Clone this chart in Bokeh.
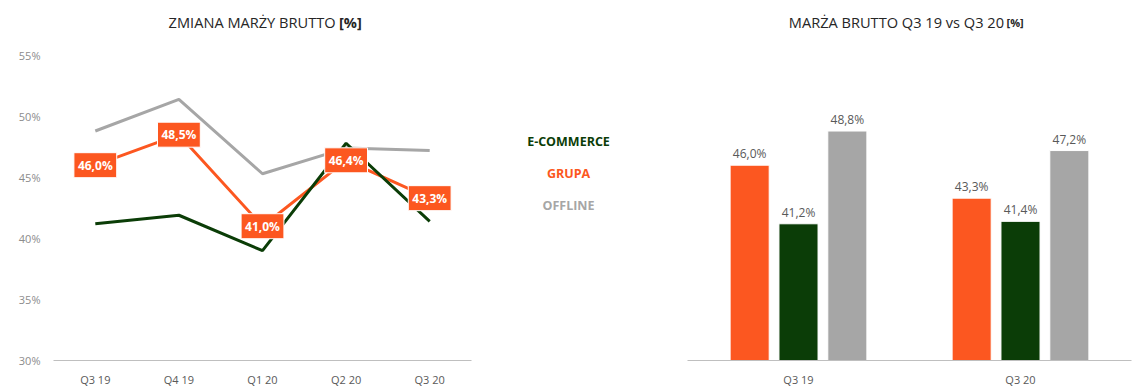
from bokeh.plotting import figure
from bokeh.layouts import row
from bokeh.models import ColumnDataSource, FactorRange, Range1d, FixedTicker, PrintfTickFormatter
from bokeh.transform import dodge
from bokeh.core.properties import value
from bokeh.embed import file_html
from bokeh.resources import INLINE

# ---------------- data ----------------
quarters = ["Q3 19", "Q4 19", "Q1 20", "Q2 20", "Q3 20"]
grupa = [46.0, 48.5, 41.0, 46.4, 43.3]
ecommerce = [41.2, 41.9, 39.0, 47.8, 41.4]
offline = [48.8, 51.4, 45.3, 47.4, 47.2]

series_names = ["E-COMMERCE", "GRUPA", "OFFLINE"]

bar_quarters = ["Q3 19", "Q3 20"]
bar_grupa = [46.0, 43.3]
bar_ecommerce = [41.2, 41.4]
bar_offline = [48.8, 47.2]

y_ticks = [30, 35, 40, 45, 50, 55]

# ---------------- style ----------------
FONT = "Open Sans"
ORANGE = "#FC5720"
GREEN = "#0B3D07"
GREY = "#A6A6A6"
TITLE_C = "#262626"
series_colors = [GREEN, ORANGE, GREY]
H = 389
BOTTOM = 28
FRAME_H = H - BOTTOM
PX_PER = 12.24
Y0 = 30
Y_TOP = Y0 + FRAME_H / PX_PER          # frame extends to top of page (room for titles)
TITLE_Y = Y0 + (FRAME_H - 22) / PX_PER


def fmt(v):
    return f"{v:.1f}%".replace(".", ",")


def base_style(p):
    p.outline_line_color = None
    p.xgrid.visible = False
    p.ygrid.visible = False
    p.background_fill_color = "white"
    p.border_fill_color = "white"


def style_xaxis(p):
    p.xaxis.axis_line_color = "#BFBFBF"
    p.xaxis.major_tick_line_color = None
    p.xaxis.minor_tick_line_color = None
    p.xaxis.major_label_standoff = 5
    p.xaxis.major_label_text_font = FONT
    p.xaxis.major_label_text_font_size = "11px"
    p.xaxis.major_label_text_color = "#595959"


# ---------------- left: line chart ----------------
p1 = figure(width=488, height=H, x_range=FactorRange(*quarters), y_range=Range1d(Y0, Y_TOP),
            output_backend="svg", toolbar_location=None,
            min_border_left=53, min_border_right=17, min_border_top=0, min_border_bottom=BOTTOM)
base_style(p1)

src = ColumnDataSource(dict(q=quarters, grupa=grupa, ecommerce=ecommerce, offline=offline,
                            lbl=[fmt(v) for v in grupa]))
p1.line("q", "offline", source=src, color=GREY, line_width=3)
p1.line("q", "grupa", source=src, color=ORANGE, line_width=3)
p1.line("q", "ecommerce", source=src, color=GREEN, line_width=3)
p1.text("q", "grupa", text="lbl", source=src, text_color="white",
        text_font=value(FONT), text_font_style="bold", text_font_size="12px",
        text_align="center", text_baseline="middle",
        background_fill_color=ORANGE, border_line_color="white", border_line_width=1,
        padding=4)

p1.yaxis.ticker = FixedTicker(ticks=y_ticks)
p1.yaxis.formatter = PrintfTickFormatter(format="%d%%")
p1.yaxis.axis_line_color = None
p1.yaxis.major_tick_line_color = None
p1.yaxis.minor_tick_line_color = None
p1.yaxis.major_label_standoff = 7
p1.yaxis.major_label_text_font = FONT
p1.yaxis.major_label_text_font_size = "11px"
p1.yaxis.major_label_text_color = "#8C8C8C"
style_xaxis(p1)

p1.text(x=[3.374], y=[TITLE_Y], text=["ZMIANA MARŻY BRUTTO"], text_align="right", text_baseline="middle",
        text_font=value(FONT), text_font_size="14.6px", text_color=TITLE_C)
p1.text(x=[3.415], y=[TITLE_Y], text=["[%]"], text_align="left", text_baseline="middle",
        text_font=value(FONT), text_font_size="14.6px", text_font_style="bold", text_color=TITLE_C)

# ---------------- middle: legend ----------------
p2 = figure(width=192, height=H, x_range=Range1d(0, 192), y_range=Range1d(FRAME_H, 0),
            x_axis_location=None, y_axis_location=None,
            output_backend="svg", toolbar_location=None,
            min_border_left=0, min_border_right=0, min_border_top=0, min_border_bottom=BOTTOM)
base_style(p2)
leg = ColumnDataSource(dict(name=series_names, color=series_colors,
                            x=[80] * len(series_names),
                            y=[141 + 32.5 * i for i in range(len(series_names))]))
p2.text("x", "y", text="name", source=leg, text_color="color",
        text_font=value(FONT), text_font_style="bold", text_font_size="12.5px",
        text_align="center", text_baseline="middle")

# ---------------- right: bar chart ----------------
p3 = figure(width=460, height=H, x_range=FactorRange(*bar_quarters), y_range=Range1d(Y0, Y_TOP),
            y_axis_location=None, output_backend="svg", toolbar_location=None,
            min_border_left=7, min_border_right=9, min_border_top=0, min_border_bottom=BOTTOM)
base_style(p3)
bsrc = ColumnDataSource(dict(q=bar_quarters, grupa=bar_grupa, ecommerce=bar_ecommerce, offline=bar_offline,
                             grupa_l=[fmt(v) for v in bar_grupa],
                             ecommerce_l=[fmt(v) for v in bar_ecommerce],
                             offline_l=[fmt(v) for v in bar_offline]))
offsets = [-0.22, 0.0, 0.22]
for key, col, off in zip(["grupa", "ecommerce", "offline"], [ORANGE, GREEN, GREY], offsets):
    xd = dodge("q", off, range=p3.x_range)
    p3.vbar(x=xd, top=key, bottom=Y0, width=0.176, source=bsrc, fill_color=col,
            line_color="white", line_width=1)
    p3.text(x=xd, y=key, text=key + "_l", source=bsrc, text_color="#595959",
            text_font=value(FONT), text_font_size="12px", text_align="center",
            text_baseline="bottom", y_offset=-3)
style_xaxis(p3)

p3.text(x=[1.4257], y=[TITLE_Y], text=["MARŻA BRUTTO Q3 19 vs Q3 20"], text_align="right", text_baseline="middle",
        text_font=value(FONT), text_font_size="14.6px", text_color=TITLE_C)
p3.text(x=[1.437], y=[TITLE_Y], text=["[%]"], text_align="left", text_baseline="middle",
        text_font=value(FONT), text_font_size="11px", text_font_style="bold", text_color=TITLE_C)

layout = row(p1, p2, p3)
open("out.html", "w").write(file_html(layout, INLINE))
